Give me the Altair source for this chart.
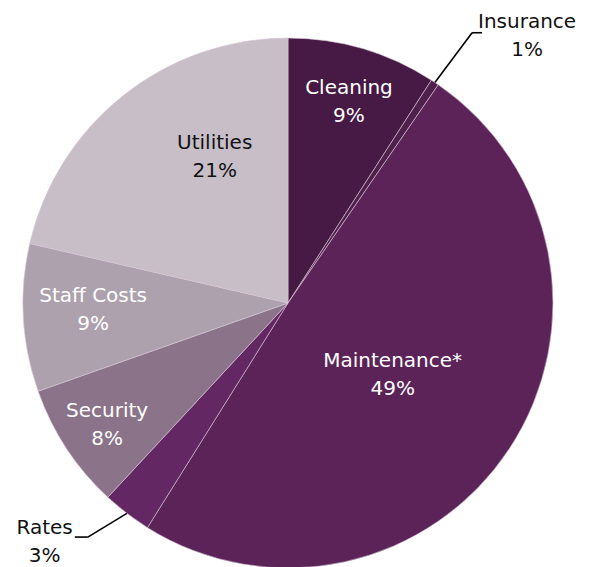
import math
import pandas as pd
import altair as alt

# ---- data ----
categories = ["Cleaning", "Insurance", "Maintenance*", "Rates", "Security", "Staff Costs", "Utilities"]
values = [9.1, 0.5, 49.3, 3.0, 7.7, 9.0, 21.4]
pct_labels = ["9%", "1%", "49%", "3%", "8%", "9%", "21%"]

# ---- styles ----
colors = ["#461a45", "#50204d", "#5b2358", "#632763", "#8b7389", "#ada1ae", "#c8bec8"]
# label placement: (radius px, angle offset in degrees from slice middle, text colour)
label_style = {
    "Cleaning": (210, 0.5, "#ffffff"),
    "Insurance": (358.3, 8.2, "#111111"),
    "Maintenance*": (127, 1.2, "#ffffff"),
    "Rates": (341, 8.1, "#111111"),
    "Security": (218, -0.6, "#ffffff"),
    "Staff Costs": (195, 1.3, "#ffffff"),
    "Utilities": (163, 11.8, "#111111"),
}
# leader lines: (elbow radius, elbow angle offset deg, tail dx)
leader_style = {
    "Insurance": (327, 0.6, 10),
    "Rates": (308, 3.1, -13),
}

W, H = 577, 551
CX, CY = 280, 295
R = 265
TOTAL = sum(values)
LINE_H = 28

df = pd.DataFrame({
    "cat": categories,
    "value": values,
    "idx": list(range(len(categories))),
    "txt": [f"{c}\n{p}" for c, p in zip(categories, pct_labels)],
    "label_r": [label_style[c][0] for c in categories],
    "label_off": [label_style[c][1] for c in categories],
    "tcolor": [label_style[c][2] for c in categories],
    "lead_r": [leader_style.get(c, (0, 0, 0))[0] for c in categories],
    "lead_off": [leader_style.get(c, (0, 0, 0))[1] for c in categories],
    "lead_dx": [leader_style.get(c, (0, 0, 0))[2] for c in categories],
})

base = alt.Chart(df)

pie = base.mark_arc(radius=R, stroke="#d6c6d5", strokeWidth=0.6).encode(
    theta=alt.Theta("value:Q", stack=True),
    order=alt.Order("idx:Q"),
    color=alt.Color("cat:N", scale=alt.Scale(domain=categories, range=colors), legend=None),
    x=alt.value(CX),
    y=alt.value(CY),
)

stacked = base.transform_stack(
    stack="value", groupby=[], as_=["v0", "v1"], sort=[alt.SortField("idx", order="ascending")]
).transform_calculate(
    mid=f"(datum.v0 + datum.v1) / 2 / {TOTAL} * 2 * PI"
)

labels = stacked.transform_calculate(
    a="datum.mid + datum.label_off * PI / 180",
).transform_calculate(
    lx=f"{CX} + datum.label_r * sin(datum.a)",
    ly=f"{CY} - datum.label_r * cos(datum.a)",
).mark_text(
    font="DejaVu Sans", fontSize=20, lineBreak="\n", lineHeight=LINE_H,
    align="center", baseline="middle", dy=-LINE_H / 2,
).encode(
    x=alt.X("lx:Q", scale=None),
    y=alt.Y("ly:Q", scale=None),
    text=alt.Text("txt:N"),
    color=alt.Color("tcolor:N", scale=None),
)

leaders = stacked.transform_filter(
    alt.FieldOneOfPredicate(field="cat", oneOf=list(leader_style.keys()))
).transform_calculate(
    b="datum.mid + datum.lead_off * PI / 180",
).transform_calculate(
    x1=f"{CX} + {R} * sin(datum.mid)",
    y1=f"{CY} - {R} * cos(datum.mid)",
    xe=f"{CX} + datum.lead_r * sin(datum.b)",
    ye=f"{CY} - datum.lead_r * cos(datum.b)",
).transform_calculate(
    xt="datum.xe + datum.lead_dx",
)

lead1 = leaders.mark_rule(color="#000000", strokeWidth=1.6).encode(
    x=alt.X("x1:Q", scale=None), y=alt.Y("y1:Q", scale=None),
    x2="xe:Q", y2="ye:Q",
)
lead2 = leaders.mark_rule(color="#000000", strokeWidth=1.6).encode(
    x=alt.X("xe:Q", scale=None), y=alt.Y("ye:Q", scale=None),
    x2="xt:Q", y2="ye:Q",
)

chart = alt.layer(pie, lead1, lead2, labels).properties(
    width=W, height=H,
    autosize=alt.AutoSizeParams(type="none"),
    padding={"left": 0, "top": 0, "right": 0, "bottom": 8},
).configure_view(stroke=None)

chart.save("out.html", embed_options={"renderer": "svg", "actions": False})
